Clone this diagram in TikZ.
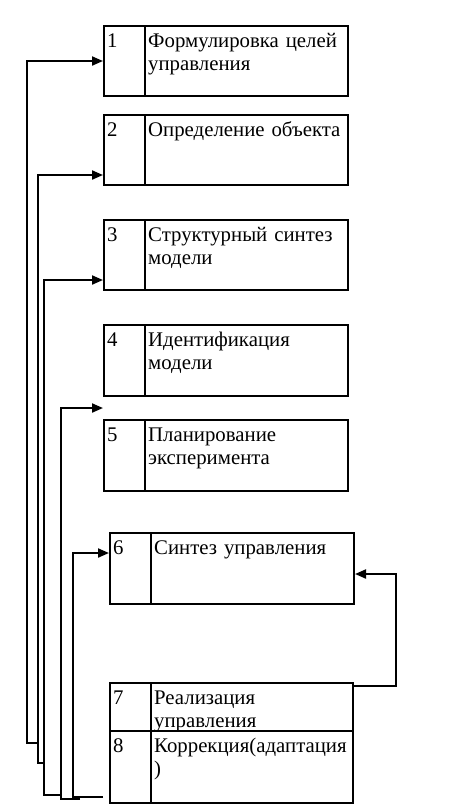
\documentclass[tikz,border=0pt]{standalone}
\usepackage{fontspec}
\setmainfont{Liberation Serif}
\usetikzlibrary{positioning,arrows.meta,calc}

\begin{document}
\begin{tikzpicture}[
    x=1pt, y=-1pt,
    stage/.style={rectangle, draw, line width=2pt, fill=white, minimum width=244pt, minimum height=70pt, inner sep=0pt, anchor=north west},
    num/.style={anchor=base west, inner sep=0pt, font=\fontsize{20.8}{23}\selectfont},
    lbl/.style={anchor=base west, inner sep=0pt, text width=205pt, align=left, font=\fontsize{20.8}{23}\selectfont},
    fb/.style={line width=2pt, -{Triangle[length=11pt,width=9pt]}},
]
\useasboundingbox (0,0) rectangle (469,804);

% Stufen 1-5
\node[stage] (b1) at (103,25) {};
\node[num] (n1) at ($(b1.north west)+(4,22.5)$) {1};
\node[lbl] (t1) at ($(b1.north west)+(45,22.5)$) {Формулировка целей\\управления};

\node[stage] (b2) at (103,114) {};
\node[num] (n2) at ($(b2.north west)+(4,22.5)$) {2};
\node[lbl] (t2) at ($(b2.north west)+(45,22.5)$) {Определение объекта};

\node[stage] (b3) at (103,219) {};
\node[num] (n3) at ($(b3.north west)+(4,22.5)$) {3};
\node[lbl] (t3) at ($(b3.north west)+(45,22.5)$) {Структурный синтез\\модели};

\node[stage, minimum height=71pt] (b4) at (103,324) {};
\node[num] (n4) at ($(b4.north west)+(4,22.5)$) {4};
\node[lbl] (t4) at ($(b4.north west)+(45,22.5)$) {Идентификация\\модели};

\node[stage, minimum height=71pt] (b5) at (103,419) {};
\node[num] (n5) at ($(b5.north west)+(4,22.5)$) {5};
\node[lbl] (t5) at ($(b5.north west)+(45,22.5)$) {Планирование\\эксперимента};

% Stufen 6-8
\node[stage, minimum height=71pt] (b6) at (109,532) {};
\node[num] (n6) at ($(b6.north west)+(4,22.5)$) {6};
\node[lbl] (t6) at ($(b6.north west)+(45,22.5)$) {Синтез управления};

\node[stage, minimum width=243pt, minimum height=48pt] (b7) at (109,682) {};
\node[num] (n7) at ($(b7.north west)+(4,22.5)$) {7};
\node[lbl] (t7) at ($(b7.north west)+(45,22.5)$) {Реализация\\управления};

\node[stage, minimum width=243pt, minimum height=72pt] (b8) at (109,730) {};
\node[num] (n8) at ($(b8.north west)+(4,22.5)$) {8};
\node[lbl] (t8) at ($(b8.north west)+(45,22.5)$) {Коррекция(адаптация\\)};

% Trennlinien
\foreach \b in {b1,b2,b3,b4,b5,b6,b7,b8}
    \draw[line width=2pt] ([xshift=42pt]\b.north west) -- ([xshift=42pt]\b.south west);

% Rueckfuehrungen
\coordinate (gap) at ($(b4.south west)!0.5!(b5.north west)$);
\coordinate (k8) at ($(b8.south west)+(-6,-7)$);
\draw[fb] (k8) -- ++(-30,0) |- ($(b6.north west)+(0,21)$);
\draw[fb] (80,799) -- ++(-19,0) |- (gap);
\draw[fb] (61,795) -- ++(-17,0) |- ($(b3.north west)+(0,61)$);
\draw[fb] (43,763) -- ++(-5,0) |- ($(b2.north west)+(0,61)$);
\draw[fb] (38,743) -- ++(-11,0) |- (b1.west);
\draw[fb] ($(b7.north east)+(0,4)$) -- ++(42,0) |- ($(b6.north east)+(0,42)$);

\end{tikzpicture}
\end{document}
